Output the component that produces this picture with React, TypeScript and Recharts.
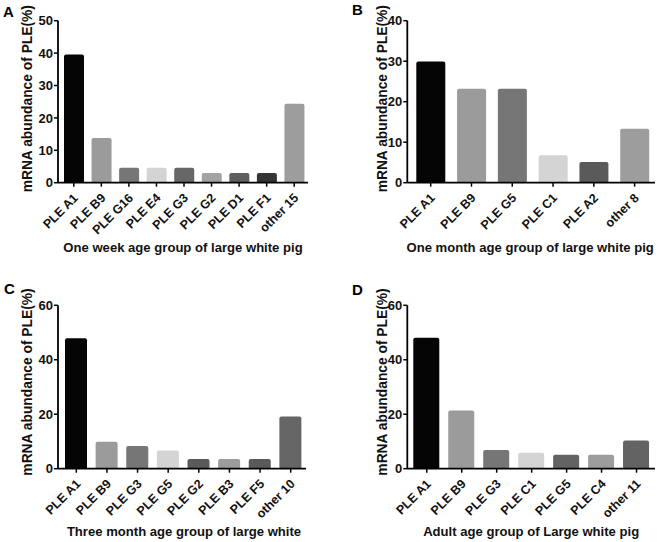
import React from 'react';
import { BarChart, Bar, XAxis, YAxis, Cell } from 'recharts';

// Panel A - one week
const weekCategories = ['PLE A1', 'PLE B9', 'PLE G16', 'PLE E4', 'PLE G3', 'PLE G2', 'PLE D1', 'PLE F1', 'other 15'];
const weekValues = [39.6, 13.8, 4.6, 4.6, 4.6, 3.0, 3.0, 3.0, 24.4];
const weekColors = ['#050505', '#9b9b9b', '#767676', '#d4d4d4', '#676767', '#a3a3a3', '#5f5f5f', '#353535', '#9d9d9d'];
const weekTicks = [0, 10, 20, 30, 40, 50];

// Panel B - one month
const monthCategories = ['PLE A1', 'PLE B9', 'PLE G5', 'PLE C1', 'PLE A2', 'other 8'];
const monthValues = [29.9, 23.2, 23.2, 6.8, 5.1, 13.3];
const monthColors = ['#050505', '#9b9b9b', '#767676', '#d4d4d4', '#5a5a5a', '#9d9d9d'];
const monthTicks = [0, 10, 20, 30, 40];

// Panel C - three month
const threeMonthCategories = ['PLE A1', 'PLE B9', 'PLE G3', 'PLE G5', 'PLE G2', 'PLE B3', 'PLE F5', 'other 10'];
const threeMonthValues = [47.9, 9.9, 8.3, 6.7, 3.6, 3.6, 3.6, 19.2];
const threeMonthColors = ['#050505', '#9b9b9b', '#767676', '#d4d4d4', '#5a5a5a', '#9d9d9d', '#5a5a5a', '#666666'];
const threeMonthTicks = [0, 20, 40, 60];

// Panel D - adult
const adultCategories = ['PLE A1', 'PLE B9', 'PLE G3', 'PLE C1', 'PLE G5', 'PLE C4', 'other 11'];
const adultValues = [48.1, 21.4, 6.9, 5.9, 5.1, 5.1, 10.4];
const adultColors = ['#050505', '#9b9b9b', '#767676', '#d4d4d4', '#636363', '#9d9d9d', '#636363'];
const adultTicks = [0, 20, 40, 60];

const FONT = '"Liberation Sans", Arial, sans-serif';

type PanelProps = {
  letter: string;
  letterPos: { left: number; top: number };
  left: number;
  top: number;
  categories: string[];
  values: number[];
  colors: string[];
  ticks: number[];
  title: string;
  marginTop: number;
  marginRight: number;
  yAxisWidth: number;
  xAxisHeight: number;
  barSize: number;
  padLeft: number;
  padRight: number;
  yLabelDx: number;
  yLabelDy: number;
  titleOffset: number;
  titleDx: number;
};

const XTick = (props: any) => {
  const { x, y, payload } = props;
  const ax = x + 5;
  const ay = y + 10;
  return (
    <text
      x={ax}
      y={ay}
      transform={`rotate(-45, ${ax}, ${ay})`}
      textAnchor="end"
      fontFamily={FONT}
      fontWeight="bold"
      fontSize={12.5}
      fill="#111"
    >
      {payload.value}
    </text>
  );
};

function Panel(p: PanelProps) {
  const data = p.categories.map((name, i) => ({ name, value: p.values[i] }));
  return (
    <div style={{ position: 'absolute', left: p.left, top: p.top, width: 330, height: 271 }}>
      <div
        style={{
          position: 'absolute',
          left: p.letterPos.left,
          top: p.letterPos.top,
          fontFamily: FONT,
          fontWeight: 'bold',
          fontSize: 15,
          lineHeight: '15px',
          color: '#000',
        }}
      >
        {p.letter}
      </div>
      <BarChart
        width={330}
        height={271}
        data={data}
        margin={{ top: p.marginTop, right: p.marginRight, left: 0, bottom: 0 }}
        barCategoryGap={0}
      >
        <XAxis
          dataKey="name"
          interval={0}
          height={p.xAxisHeight}
          padding={{ left: p.padLeft, right: p.padRight }}
          axisLine={{ stroke: '#000', strokeWidth: 1.8 }}
          tickLine={{ stroke: '#000', strokeWidth: 1.5 }}
          tickSize={4}
          tick={<XTick />}
          label={{
            value: p.title,
            position: 'insideBottom',
            offset: p.titleOffset,
            dx: p.titleDx,
            style: { fontFamily: FONT, fontWeight: 'bold', fontSize: 13.1, fill: '#111' },
          }}
        />
        <YAxis
          width={p.yAxisWidth}
          domain={[0, p.ticks[p.ticks.length - 1]]}
          ticks={p.ticks}
          interval={0}
          axisLine={{ stroke: '#000', strokeWidth: 1.8 }}
          tickLine={{ stroke: '#000', strokeWidth: 1.5 }}
          tickSize={4}
          tickMargin={1}
          tick={{ fontFamily: FONT, fontWeight: 'bold', fontSize: 13, fill: '#111' }}
          label={{
            value: 'mRNA abundance of PLE(%)',
            angle: -90,
            position: 'center',
            dx: p.yLabelDx,
            dy: p.yLabelDy,
            style: { fontFamily: FONT, fontWeight: 'bold', fontSize: 13.8, fill: '#111', textAnchor: 'middle' },
          }}
        />
        <Bar dataKey="value" barSize={p.barSize} radius={[2, 2, 0, 0]} isAnimationActive={false}>
          {data.map((d, i) => (
            <Cell key={d.name} fill={p.colors[i]} />
          ))}
        </Bar>
      </BarChart>
    </div>
  );
}

export default function App() {
  return (
    <div style={{ position: 'absolute', left: 0, top: 0, width: 660, height: 542, background: '#fff' }}>
      <Panel
        letter="A"
        letterPos={{ left: 3, top: 4 }}
        left={0}
        top={0}
        categories={weekCategories}
        values={weekValues}
        colors={weekColors}
        ticks={weekTicks}
        title="One week age group of large white pig"
        marginTop={20.7}
        marginRight={22}
        yAxisWidth={58}
        xAxisHeight={88.3}
        barSize={20}
        padLeft={2}
        padRight={0}
        yLabelDx={-2}
        yLabelDy={-3}
        titleOffset={19.3}
        titleDx={0}
      />
      <Panel
        letter="B"
        letterPos={{ left: 22, top: 2 }}
        left={330}
        top={0}
        categories={monthCategories}
        values={monthValues}
        colors={monthColors}
        ticks={monthTicks}
        title="One month age group of large white pig"
        marginTop={20.7}
        marginRight={5}
        yAxisWidth={77.3}
        xAxisHeight={88.3}
        barSize={29}
        padLeft={3}
        padRight={0}
        yLabelDx={13}
        yLabelDy={-3}
        titleOffset={19.3}
        titleDx={-1}
      />
      <Panel
        letter="C"
        letterPos={{ left: 4, top: 10 }}
        left={0}
        top={271}
        categories={threeMonthCategories}
        values={threeMonthValues}
        colors={threeMonthColors}
        ticks={threeMonthTicks}
        title="Three month age group of large white"
        marginTop={34.3}
        marginRight={24}
        yAxisWidth={58}
        xAxisHeight={73.3}
        barSize={22}
        padLeft={3}
        padRight={0}
        yLabelDx={-2}
        yLabelDy={-5}
        titleOffset={6}
        titleDx={2}
      />
      <Panel
        letter="D"
        letterPos={{ left: 22, top: 11 }}
        left={330}
        top={271}
        categories={adultCategories}
        values={adultValues}
        colors={adultColors}
        ticks={adultTicks}
        title="Adult age group of Large white pig"
        marginTop={34.3}
        marginRight={5}
        yAxisWidth={77.3}
        xAxisHeight={73.3}
        barSize={26}
        padLeft={2}
        padRight={1}
        yLabelDx={13}
        yLabelDy={-5}
        titleOffset={6}
        titleDx={0}
      />
    </div>
  );
}
